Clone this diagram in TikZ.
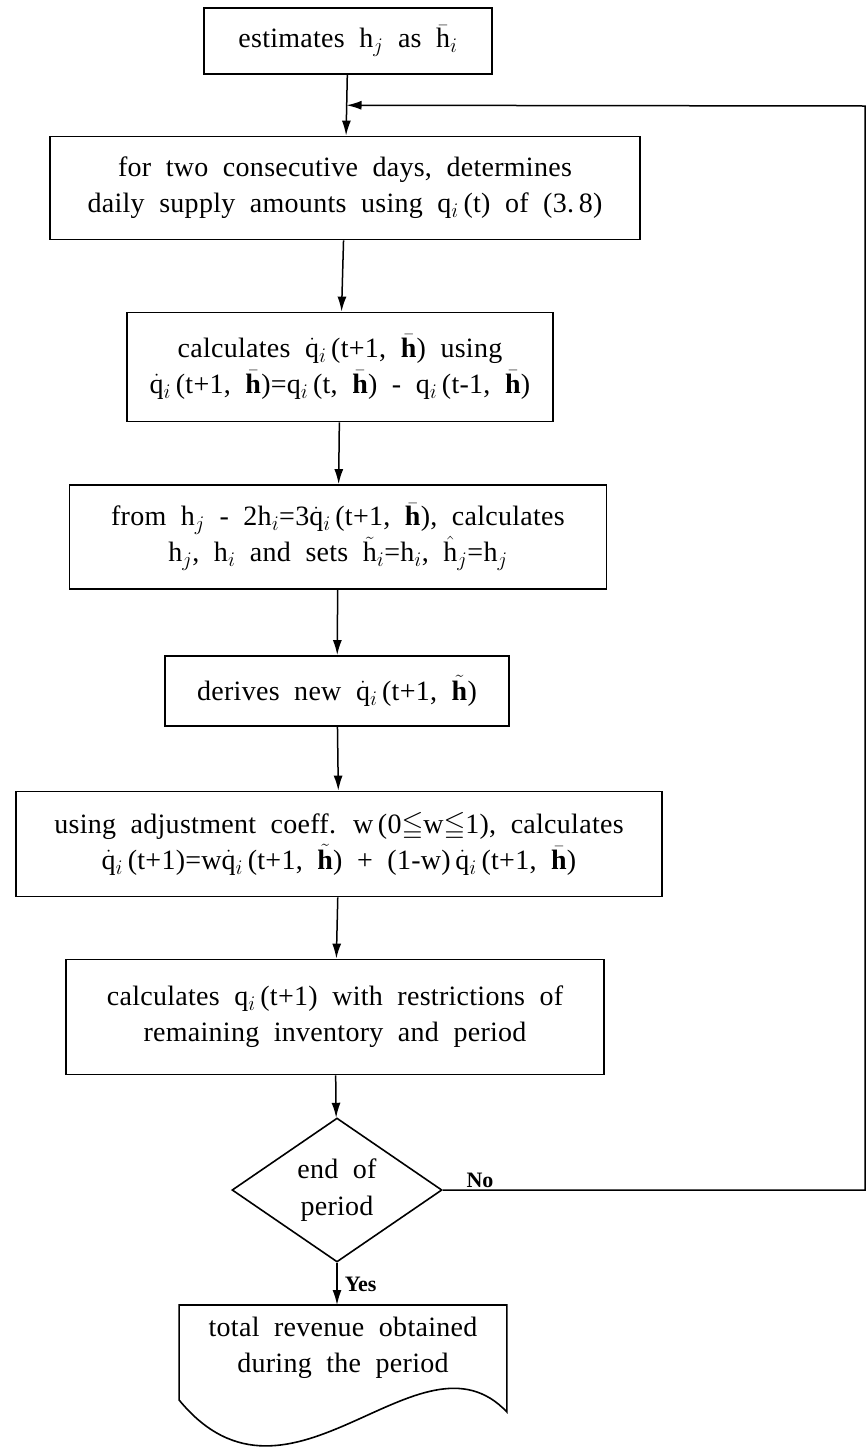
\documentclass[tikz,border=0pt]{standalone}
\usepackage{amsmath,amssymb}
\usepackage[no-math]{fontspec}
\setmainfont{Liberation Serif}[LetterSpace=1,WordSpace=2]
\newfontfamily\tagfont{Liberation Serif}
\usetikzlibrary{shapes.geometric,arrows.meta,calc}

\newcommand{\hbarb}{$\bar{\text{\textbf{h}}}$}
\newcommand{\htilb}{$\tilde{\text{\textbf{h}}}$}
\newcommand{\qdot}{$\dot{\text{q}}$}

\tikzset{
	procbox/.style={draw, line width=1.8pt, align=center, inner sep=0pt,
		font={\fontsize{28}{36}\selectfont}},
	decbox/.style={diamond, draw, line width=1.6pt, align=center, inner sep=0pt,
		aspect=1.46, minimum width=210, minimum height=144,
		font={\fontsize{28}{37}\selectfont}},
	tag/.style={font={\tagfont\bfseries\fontsize{22}{24}\selectfont}, inner sep=1pt},
	>={Latex[length=15pt,width=9pt]}
}

\begin{document}
\begin{tikzpicture}[x=1pt,y=-1pt,line width=1.5pt]
	\useasboundingbox (0,0) rectangle (867,1449);
	\node[procbox, minimum width=288, minimum height=66] at (348,41) (est) {estimates h$_j$ as $\bar{\text{h}}_i$};
	\node[procbox, minimum width=590, minimum height=103] at (345,188) (cons) {for two consecutive days, determines\\ daily supply amounts using q$_i$\,(t) of (3.\,8)};
	\node[procbox, minimum width=426, minimum height=109] at (340,367) (calc) {calculates \qdot$_i$\,(t+1, \hbarb) using\\ \qdot$_i$\,(t+1, \hbarb)=q$_i$\,(t, \hbarb) - q$_i$\,(t-1, \hbarb)};
	\node[procbox, minimum width=537, minimum height=104] at (338,537) (solve) {from h$_j$ - 2h$_i$=3\qdot$_i$\,(t+1, \hbarb), calculates\\ h$_j$, h$_i$ and sets $\tilde{\text{h}}_i$=h$_i$, $\hat{\text{h}}_j$=h$_j$};
	\node[procbox, minimum width=344, minimum height=70] at (337,691) (derive) {derives new \qdot$_i$\,(t+1, \htilb)};
	\node[procbox, minimum width=646, minimum height=105] at (339,844) (adjust) {using adjustment coeff. w\,(0$\leqq$w$\leqq$1), calculates\\ \qdot$_i$\,(t+1)=w\qdot$_i$\,(t+1, \htilb) + (1-w)\,\qdot$_i$\,(t+1, \hbarb)};
	\node[procbox, minimum width=538, minimum height=115] at (335,1017) (restrict) {calculates q$_i$\,(t+1) with restrictions of\\ remaining inventory and period};
	\node[decbox] at (337,1190) (dec) {end of\\ period};
	\node[procbox, draw=none, minimum width=326, minimum height=84, anchor=north] at (343,1305) (total) {total revenue obtained\\ during the period};
	\draw[line width=1.6pt] (total.north west) -- (total.north east) -- ($(total.north east)+(0,107)$)
		.. controls (420,1320) and (290,1535) .. ($(total.north west)+(0,95)$) -- cycle;
	\coordinate (join) at ($(est.south)!0.5!(cons.north)$);
	\coordinate (back) at (865,106);
	\path[->] (est) edge (cons);
	\path[->] (cons) edge (calc);
	\path[->] (calc) edge (solve);
	\path[->] (solve) edge (derive);
	\path[->] (derive) edge (adjust);
	\path[->] (adjust) edge (restrict);
	\path[->] (restrict) edge (dec);
	\path[->] (dec.south) edge node[tag, right=6pt] (yes) {Yes} (dec.south |- total.north);
	\draw[->] (dec.east) -- (dec.east -| back) -- (back) -- (join);
	\node[tag, anchor=south west] at ($(dec.east)+(22,-1)$) (no) {No};
\end{tikzpicture}
\end{document}
